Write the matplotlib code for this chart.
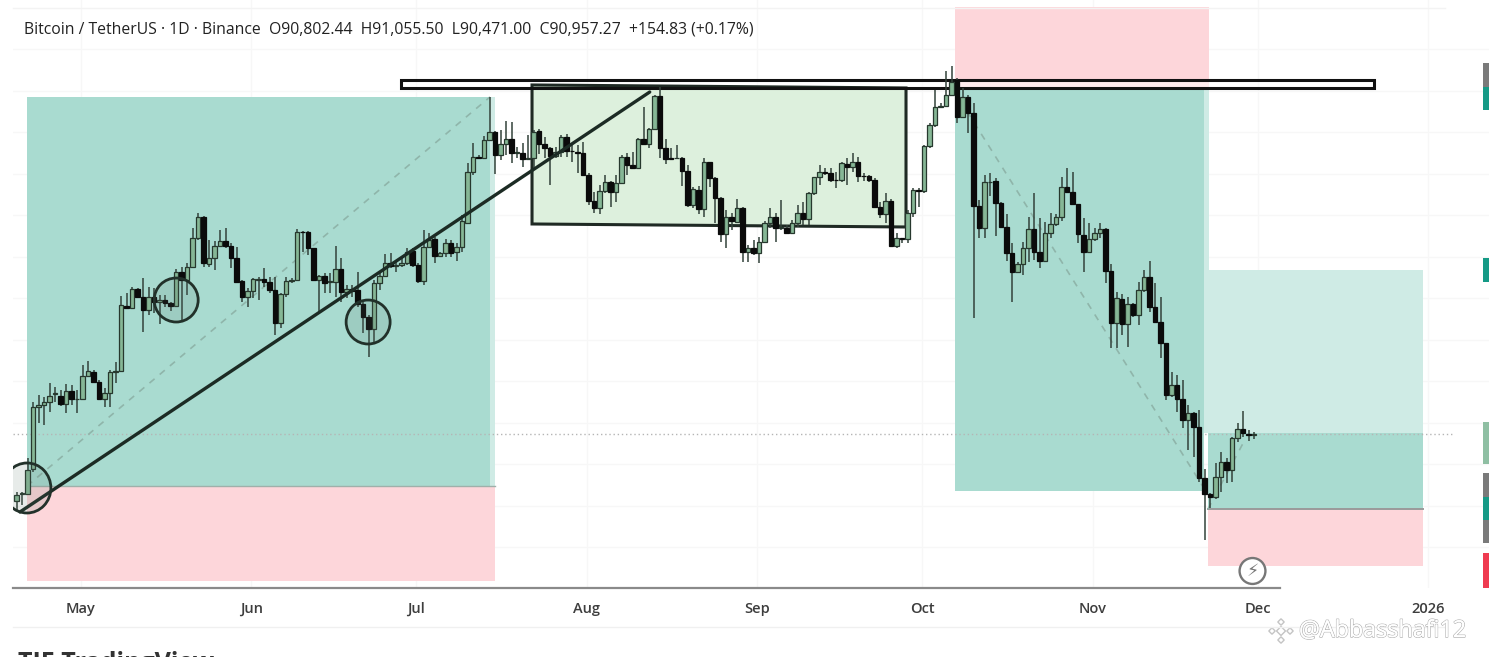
import numpy as np
import pandas as pd
import matplotlib
matplotlib.use("Agg")
import matplotlib.pyplot as plt
import matplotlib.patheffects as pe
from matplotlib.patches import Rectangle, Ellipse, Polygon
from matplotlib.transforms import IdentityTransform

start = pd.Timestamp("2025-04-19")
# OHLC in thousands of USDT per daily candle
opens = [84.49,85.17,85.13,87.51,93.49,93.71,94.03,94.77,94.61,93.78,95.06,94.26,94.26,96.51,96.93,95.96,94.29,94.84,96.93,97.02,
103.26,103.10,104.89,104.16,102.87,104.16,103.61,103.83,103.51,103.26,106.5,105.76,106.98,109.78,111.87,107.3,107.91,109.07,109.52,109.07,
107.91,105.67,104.09,104.73,105.76,105.86,105.54,104.8,101.58,104.38,105.67,105.76,110.42,110.42,108.81,105.76,106.15,105.6,105.6,106.85,
104.57,104.89,104.8,103.45,102.23,101.01,105.44,106.18,107.43,107.14,107.2,107.37,108.59,107.21,105.67,108.97,109.75,108.11,108.33,109.3,
108.43,108.97,111.29,116.14,117.65,117.5,119.25,120.06,117.81,118.84,119.32,118.04,117.97,117.46,117.49,120.16,118.87,118.46,117.72,118.13,
119.58,118.23,118.13,117.97,115.89,113.38,112.67,114.34,115.24,114.28,115.08,117.59,116.85,116.59,119.39,118.84,120.29,123.5,118.46,117.49,
117.49,117.56,116.3,112.96,114.44,112.61,117.11,115.56,113.64,110.2,111.8,111.39,112.74,108.5,108.88,108.33,109.39,111.29,111.87,110.81,
110.74,110.33,111.23,112.19,111.64,114.12,115.66,116.14,116.11,115.4,115.4,116.91,116.62,117.17,115.82,115.79,115.4,112.83,112.09,113.41,
109.07,109.78,109.72,112.25,114.44,114.34,118.71,120.71,122.47,122.53,123.6,125.04,121.5,123.44,121.83,112.93,110.74,115.18,115.34,113.15,
110.9,108.33,106.5,107.27,108.82,110.65,108.43,107.63,110.26,111.16,111.8,114.7,114.28,113.09,110.1,108.43,109.68,110.26,110.65,106.66,
101.59,103.93,101.49,103.42,102.39,104.8,106.09,103.19,101.68,99.72,94.68,95.64,94.29,92.27,92.98,91.56,86.65,85.1,84.82,86.81,
88.25,87.45,90.57,91.37,90.95,90.80]
highs = [85.36,85.33,88.57,94.03,94.68,94.52,95.87,95.48,95.16,95.74,95.64,95.16,97.57,97.95,97.09,96.12,95.32,97.09,97.89,104.22,
104.48,105.05,104.96,105.92,105.05,104.96,104.32,104.32,103.67,106.79,107.05,107.43,110.74,112.19,111.93,109.62,109.52,110.58,110.8,109.3,
108.97,105.76,104.96,105.92,106.08,106.89,106.08,106.08,104.48,106.08,105.92,110.65,110.5,110.5,108.81,106.24,106.4,106.4,109.07,107.91,
105.28,105.28,106.57,103.67,102.39,105.76,106.57,108.27,108.33,107.69,107.85,108.81,108.81,107.37,110.58,110.26,109.94,108.49,109.68,109.62,
109.3,112.03,117.01,118.94,117.81,119.64,123.43,120.16,120.22,121.12,121.03,118.55,118.94,119.74,120.22,120.29,119.58,118.55,118.55,119.74,
119.84,119.0,118.78,119.1,116.05,114.28,114.92,115.89,115.34,115.89,117.81,117.97,118.13,119.42,122.47,120.38,123.6,124.4,119.32,118.46,
118.78,117.65,116.85,114.76,114.82,117.49,117.17,115.72,113.8,112.51,112.19,113.54,112.83,109.14,109.62,109.94,111.48,112.67,112.19,113.48,
111.07,111.55,112.99,113.31,114.28,115.72,116.85,116.53,116.53,116.21,117.17,117.49,118.04,117.59,116.05,115.89,115.56,113.31,114.12,113.54,
110.26,109.84,112.51,114.6,114.6,118.78,120.87,124.08,122.79,125.94,126.39,125.2,124.24,123.6,122.79,113.48,115.89,116.05,115.56,113.31,
112.09,109.3,107.53,109.46,111.87,114.12,111.71,111.39,112.19,112.13,115.72,116.59,116.21,113.09,111.71,111.29,110.74,111.29,110.74,107.31,
104.64,104.38,104.16,103.52,105.6,106.73,107.63,105.44,104.16,99.72,96.86,96.61,96.13,93.72,93.07,93.23,87.51,85.2,88.09,89.22,
88.57,90.66,92.01,93.17,91.31,91.06]
lows = [83.59,84.07,85.04,87.29,91.95,91.79,93.07,94.03,93.62,92.91,93.71,92.97,94.2,96.44,95.87,94.2,93.55,93.49,95.87,96.93,
103.03,102.97,103.99,100.78,102.39,102.55,101.49,103.19,102.81,103.19,101.91,104.32,106.89,109.62,107.05,106.98,106.73,108.97,108.81,106.89,
105.54,103.67,103.19,103.99,103.83,105.12,104.48,100.46,101.1,104.16,105.44,105.7,108.49,108.17,105.7,102.71,104.48,104.48,104.16,103.67,
103.99,104.16,103.19,100.62,98.37,99.66,104.8,106.02,106.89,106.57,107.05,107.21,107.05,105.44,105.28,108.81,107.43,108.01,108.01,108.01,
107.62,108.49,111.22,115.88,117.39,117.39,119.16,115.98,117.33,117.81,117.01,117.49,116.62,117.33,116.53,117.91,117.49,114.92,117.49,117.65,
117.59,117.17,116.05,115.82,113.0,112.19,112.13,114.12,112.83,113.31,115.08,115.89,116.53,116.53,118.78,118.46,120.22,117.49,116.95,117.33,
117.39,114.82,112.83,112.67,112.13,111.87,114.76,111.23,109.46,108.82,110.58,111.23,107.53,107.53,108.17,107.43,109.3,110.74,109.46,110.58,
110.2,110.26,110.9,111.07,111.07,113.96,114.92,115.89,115.24,114.6,115.24,114.92,116.21,115.24,115.34,115.24,112.77,111.71,111.23,108.98,
108.82,109.3,109.3,111.87,112.83,114.12,118.46,120.54,122.31,122.41,123.5,120.87,121.35,119.9,102.07,109.78,109.78,113.86,110.04,110.74,
107.63,103.68,106.41,106.25,107.53,107.69,106.89,107.53,109.78,111.0,111.48,114.12,113.0,109.3,106.57,108.33,109.56,109.78,105.51,99.18,
99.18,100.46,99.34,102.23,101.43,104.64,102.71,101.59,98.21,94.2,94.52,93.07,91.47,89.38,88.73,86.33,80.7,83.76,84.65,85.36,
86.17,86.33,90.18,90.66,90.28,90.47]
closes = [85.04,85.23,87.45,93.55,93.71,94.03,94.61,94.84,93.78,95.06,94.26,94.3,96.51,96.99,95.96,94.29,94.84,96.93,97.02,103.32,
103.10,104.89,104.16,102.87,104.16,103.61,103.83,103.58,103.26,106.57,105.76,106.98,109.78,111.87,107.37,107.91,109.07,109.55,109.07,107.91,
105.6,104.09,104.73,105.83,105.86,105.54,104.8,101.58,104.38,105.67,105.76,110.42,110.36,108.81,105.76,106.15,105.5,105.7,106.85,104.57,
104.89,104.73,103.45,102.23,101.01,105.44,106.18,107.43,107.14,107.2,107.43,108.49,107.21,105.7,108.97,109.62,108.11,108.33,109.3,108.4,
108.97,111.45,116.14,117.65,117.52,119.25,120.06,117.81,118.84,119.32,118.04,118.1,117.46,117.52,120.06,118.87,118.46,117.72,118.13,119.58,
118.23,118.17,117.97,115.89,113.38,112.67,114.34,115.24,114.28,115.08,117.65,116.85,116.59,119.36,118.84,120.29,123.5,118.46,117.43,117.43,
117.55,116.3,112.96,114.5,112.61,117.11,115.56,113.64,110.2,111.87,111.45,112.74,108.5,108.88,108.33,109.39,111.29,111.87,110.81,110.87,
110.33,111.29,112.19,111.64,114.12,115.66,116.14,116.1,115.4,115.36,117.01,116.62,117.17,115.82,115.78,115.4,112.83,112.09,113.41,109.07,
109.78,109.72,112.25,114.44,114.34,118.71,120.71,122.47,122.53,123.6,124.88,121.5,123.44,121.83,112.93,110.74,115.18,115.24,113.15,110.9,
108.33,106.5,107.27,108.82,110.65,108.43,107.63,110.26,111.16,111.8,114.7,114.28,113.09,110.17,108.43,109.68,110.26,110.65,106.66,101.65,
104.0,101.49,103.42,102.39,104.8,106.09,103.19,101.68,99.72,94.68,95.64,94.29,92.27,92.98,91.56,86.65,85.1,84.82,86.81,88.25,
87.45,90.57,91.37,91.05,90.8,90.96]

month_dates = ["2025-05-01","2025-06-01","2025-07-01","2025-08-01","2025-09-01","2025-10-01","2025-11-01","2025-12-01","2026-01-01"]
month_labels = ["May","Jun","Jul","Aug","Sep","Oct","Nov","Dec","2026"]
grid_prices = [80,84,88,92,96,100,104,108,112,116,120,124,128]
last_price = 90.96
header = "Bitcoin / TetherUS · 1D · Binance  O90,802.44  H91,055.50  L90,471.00  C90,957.27  +154.83 (+0.17%)"

# Axes region: one session is 5.5 px, 1k is 10.37 px
W, H = 1489, 657
fig = plt.figure(figsize=(W/100, H/100), dpi=100, facecolor="white")
ax = fig.add_axes([13/W, 1-588/H, (W-13)/W, 588/H])
ax.set_xlim(-0.67, 267.7)
ax.set_ylim(76.07, 132.75)
ax.set_facecolor("white")

for s in ["top", "left", "right"]:
    ax.spines[s].set_visible(False)
ax.spines["bottom"].set_bounds(-0.67, 229.7)
ax.spines["bottom"].set_color("#8a8a8a")
ax.spines["bottom"].set_linewidth(1.6)
ax.set_yticks(grid_prices)
ax.set_yticklabels([])
# month ticks sit on the session boundary, a little left of the candle centre
xt = [(pd.Timestamp(d)-start).days - 0.36 for d in month_dates]
ax.set_xticks(xt)
ax.set_xticklabels(month_labels, fontsize=10.5, color="#3d3d3d", fontweight="semibold", family="Open Sans")
ax.tick_params(length=0, pad=10)
ax.grid(True, color="#f7f7f7", lw=0.9, zorder=0)
ax.set_axisbelow(True)

TEAL = "#A9DBD0"; LTEAL = "#CFEBE5"; RED = "#FDD6DA"
def zone(x0, x1, p0, p1, c, z=1):
    ax.add_patch(Rectangle((x0, p0), x1-x0, p1-p0, fc=c, ec="none", zorder=z))

# Long position, April to July
zone(1.87, 86.05, 85.9, 123.4, TEAL)
zone(86.05, 86.96, 85.9, 123.4, LTEAL)
zone(1.87, 86.96, 76.74, 85.9, RED)
ax.plot([1.87, 86.96], [85.9, 85.9], color="#9fb0aa", lw=1, zorder=1.5)
# Short position, October onwards
zone(170.6, 216.8, 124.27, 132.08, RED)
zone(170.6, 215.9, 85.42, 124.27, TEAL)
zone(215.9, 216.8, 91.0, 124.27, LTEAL)
# Long position, late November
zone(216.6, 255.7, 91.01, 106.72, LTEAL)
zone(216.6, 255.7, 83.68, 91.01, TEAL)
zone(216.6, 255.7, 78.19, 83.68, RED)
ax.plot([216.6, 255.7], [83.68, 83.68], color="#9a9a9a", lw=1.4, zorder=1.5)

# Resistance band fill, range box, band outline
ax.add_patch(Rectangle((69.9, 124.27), 246.8-69.9, 125.04-124.27, fc=(1, 1, 1, 0.55), ec="none", zorder=1.1))
ax.add_patch(Polygon([(93.7, 124.56), (161.7, 124.27), (161.7, 110.87), (93.7, 111.16)],
                     closed=True, fc="#DDF0DD", ec="#1f2a24", lw=2.2, zorder=1.2))
ax.add_patch(Rectangle((69.9, 124.27), 246.8-69.9, 125.04-124.27, fc="none", ec="#111111", lw=2.2, zorder=1.3))

# Last price
ax.plot([-0.67, 261], [last_price, last_price], color="#b5b5b5", lw=1, ls=(0, (1, 2)), zorder=1.1)

# Dashed targets
for xs_, ys_ in [([1.87, 86.05], [85.9, 123.4]), ([171.5, 216.1], [123.11, 85.5]), ([216.6, 223.3], [83.68, 90.34])]:
    ax.plot(xs_, ys_, color="#8fb5aa", lw=1.2, ls=(0, (4, 4)), zorder=1.6)

# Candles
x = np.arange(len(opens))
o, h, l, c = map(np.asarray, (opens, highs, lows, closes))
up = c >= o
ax.vlines(x, l, h, color="#33423a", lw=1.1, zorder=3)
ax.bar(x[up], (c-o)[up], bottom=o[up], width=0.8, color="#86B796", edgecolor="#27382e", lw=0.9, zorder=3.2)
ax.bar(x[~up], (o-c)[~up], bottom=c[~up], width=0.8, color="#0b0b0b", edgecolor="#0b0b0b", lw=0.9, zorder=3.2)

# Trend line and circles
ax.plot([0.6, 115.1], [83.4, 123.88], color="#1c2b24", lw=2.4, zorder=4, solid_capstyle="round")
for cx, cy, w, hh in [(1.87, 85.71, 8.7, 4.82), (29.0, 103.83, 8.0, 4.24), (63.9, 101.71, 8.0, 4.24)]:
    ax.add_patch(Ellipse((cx, cy), w, hh, fc=(0.35, 0.45, 0.40, 0.14), ec="#22312a", lw=2.0, zorder=4))

# Price-scale tags at the right edge
tags = [(124.37, 126.68, "#7A7A7A"), (122.15, 124.37, "#159A86"), (105.57, 107.88, "#159A86"),
        (88.02, 92.07, "#8FBFA3"), (84.84, 87.16, "#7A7A7A"), (82.62, 84.84, "#159A86"),
        (80.41, 82.62, "#7A7A7A"), (76.07, 79.44, "#EF3B50")]
for p0, p1, col in tags:
    ax.add_patch(Rectangle((266.6, p0), 3, p1-p0, fc=col, ec="none", zorder=5))

# Lightning badge
ax.add_patch(Ellipse((224.7, 77.71), 4.7, 2.5, fc="white", ec="#777777", lw=1.7, zorder=5))
ax.text(224.7, 77.71, "\u26A1", ha="center", va="center", fontsize=12.5, color="#777777", zorder=6, family="DejaVu Sans")

# Frame, header, footer
fig.add_artist(plt.Line2D([13/W, 1445/W], [1-627/H]*2, color="#f0f0f0", lw=1))
fig.add_artist(plt.Line2D([13/W, 1445/W], [1-8/H]*2, color="#f3f3f3", lw=1))
fig.text(24/W, 1-29/H, header, fontsize=11.35, color="#222222", va="center", family="Open Sans")
fig.text(18/W, 1-664/H, "TIE TradingView", fontsize=18, fontweight="bold", color="#333333", va="center", family="Open Sans")
fig.text(1299/W, 1-631/H, "@Abbasshafi12", fontsize=16.8, color="white", va="center", family="Open Sans",
         path_effects=[pe.withStroke(linewidth=1.0, foreground="#b0b0b0"), pe.Normal()])
# Watermark logo: centre diamond with four around it
for dx, dy, r in [(0, 0, 4.5), (-9, 0, 3.2), (9, 0, 3.2), (0, -9, 3.2), (0, 9, 3.2)]:
    px, py = 1281+dx, H-631+dy
    fig.add_artist(Polygon([(px-r, py), (px, py+r), (px+r, py), (px, py-r)], closed=True, fc="white",
                           ec="#c4c4c4", lw=1.0, transform=IdentityTransform()))

fig.savefig("out.png", dpi=100)
